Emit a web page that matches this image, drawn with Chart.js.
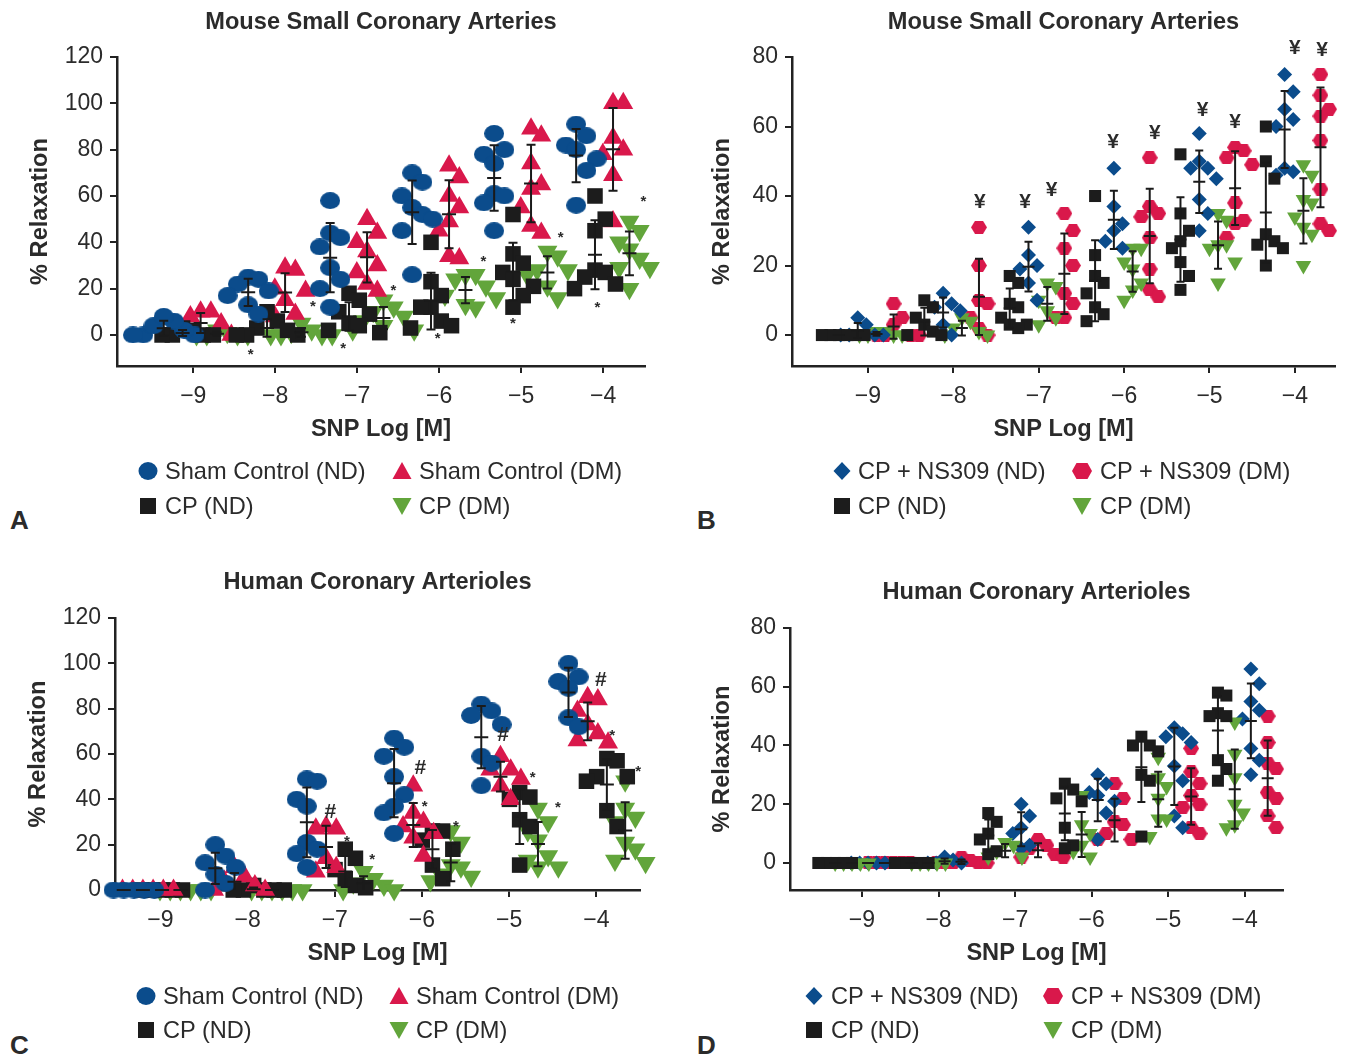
<!DOCTYPE html>
<html>
<head>
<meta charset="utf-8">
<script src="https://cdn.jsdelivr.net/npm/chart.js@4.4.1/dist/chart.umd.min.js"></script>
<style>
  body { margin: 0; background: #fff; width: 1350px; height: 1057px; position: relative; overflow: hidden;
         font-family: "Liberation Sans", Arial, sans-serif; color: #2b2b2b; }
  canvas { position: absolute; }
  .leg { position: absolute; font-size: 23.6px; line-height: 26px; height: 26px; white-space: nowrap; }
  .mk { position: absolute; }
  .letter { position: absolute; font-weight: bold; font-size: 26px; line-height: 30px; }
</style>
</head>
<body>
<div class="letter" style="left:10px;top:505px">A</div>
<div class="letter" style="left:697px;top:505px">B</div>
<div class="letter" style="left:10px;top:1030px">C</div>
<div class="letter" style="left:697px;top:1030px">D</div>

<script>
// ---- data ----
const xTicks = [-9, -8, -7, -6, -5, -4];
const yTicks120 = [0, 20, 40, 60, 80, 100, 120];
const yTicks80 = [0, 20, 40, 60, 80];

// A: mouse small coronary arteries
const A_doses = [-9.03, -8, -7, -6, -5, -4];
const A_shamND = [[0,0,0,2,4,6,8],[25,24,22,19,17,13,9],[58,44,42,38,29,24,20,12],[70,66,60,55,52,50,45,26],[87,80,78,74,61,60,57,45],[91,86,82,80,76,71,56]];
const A_shamDM = [[0,0,3,5,8,10,10],[28,29,20,19,15,9,8],[50,44,40,36,30,27,22,19],[73,68,60,55,49,45,34,33],[89,86,74,65,63,55,47,44],[100,100,85,80,78,69,49]];
const A_cpND = [[0,0,0,0,2,3],[10,6,3,0,0,0,2],[18,15,10,9,5,4,2,1],[40,23,17,12,12,6,4,3],[52,35,31,27,24,21,17,12],[60,50,45,28,27,25,22,20]];
const A_cpDM = [[0,0,0,0,1,2],[0,0,0,0,2,5,1],[15,12,10,8,6,4,2,2],[26,26,24,21,17,16,13,12],[36,34,28,28,26,21,16],[49,45,40,37,33,29,29,20]];
const A_stars = [[-8.3,-8.6],[-7.54,12],[-7.17,-6],[-6.56,19],[-6.02,-1.7],[-5.46,31.5],[-5.1,5],[-4.52,42],[-4.07,11.6],[-3.51,57.4]];

// B: mouse small coronary arteries, NS309
const B_doses = [-9, -8, -7, -6, -5, -4];
const B_nsND = [[0,0,0,0,3,5],[12,9,8,7,3,0],[31,23,20,19,15,10],[48,37,32,30,27,25],[58,50,48,48,45,39,35,30],[75,70,65,62,60,48,47,46]];
const B_nsDM = [[9,5,3,0,0,0,0],[31,20,10,9,5,2,0],[35,30,25,20,12,9,5,5],[51,37,35,34,28,19,13,11],[54,53,51,49,38,33,32,28],[75,69,65,63,56,42,32,30]];
const B_cpND = [[0,0,0,0,0,0],[10,8,5,3,1,0,0],[17,15,9,8,5,3,3,2],[40,23,17,15,12,8,6,4],[52,35,30,27,25,21,17,13],[60,50,45,29,27,26,25,20]];
const B_cpDM = [[0,0,0,0,1,1],[5,4,2,1,0,0],[15,14,10,7,5,3],[25,25,21,19,15,13,10],[35,33,26,26,25,21,15],[49,46,39,38,34,31,29,20]];
const B_yen = [[-7.69,38.3],[-7.16,38.3],[-6.85,41.7],[-6.13,55.5],[-5.64,58],[-5.08,64.7],[-4.7,61.3],[-4.0,82.6],[-3.68,82]];

// C: human coronary arterioles
const C_doses = [-9.1, -8.05, -7, -6, -5, -4];
const C_shamND = [[0,0,0,0,0,0],[20,15,12,10,7,3,0],[49,48,40,37,21,18,16,10],[67,63,59,50,42,37,34,25],[82,79,77,73,59,56,46],[100,94,92,89,76,72]];
const C_shamDM = [[0,0,0,0,0,0],[10,6,4,2,0,0],[28,27,27,14,10,8],[46,34,30,28,25,23,15],[59,53,53,49,46,40],[85,84,79,73,69,66,65]];
const C_cpND = [[0,0,0,0,0],[2,0,0,0,0,0],[18,14,9,5,2,1],[26,26,22,18,11,5],[43,41,40,31,28,11],[58,57,50,50,48,35,28]];
const C_cpDM = [[0,0,0,0,0,0],[0,0,0,0,0,0],[8,5,3,2,0,0],[26,21,11,10,7,6,4],[36,30,26,22,15,13,10,10],[48,36,32,30,21,18,13,12]];
const C_hash = [[-7.05,34.4],[-6.02,53.8],[-5.07,68.4],[-3.95,92.6]];
const C_stars = [[-6.86,21.2],[-6.57,13.2],[-5.97,36.6],[-5.61,27.8],[-4.73,49.4],[-4.44,36.2],[-3.82,67.9],[-3.52,52]];

// D: human coronary arterioles, NS309
const D_doses = [-9, -8, -7, -6, -5, -4];
const D_nsND = [[0,0,0,0,0],[0,0,0,1,2],[20,16,12,10,6,5],[30,27,24,23,21,17,8],[46,44,43,41,33,28,16,12],[66,61,55,52,49,39,35,30]];
const D_nsDM = [[0,0,0,0,0,0],[0,0,0,0,0,1,2],[8,6,5,3,2,2],[27,22,14,13,10,8,8],[39,31,27,23,20,19,12,10],[50,41,34,32,24,22,16,12]];
const D_cpND = [[0,0,0,0,0],[0,0,0,0,0],[17,14,10,8,4,3],[27,25,22,21,12,6,5],[43,40,40,38,30,28,9],[58,57,51,50,50,35,32,28]];
const D_cpDM = [[0,0,0,0,0],[0,0,0,0,0],[7,6,4,2,2],[23,13,10,6,4,2],[36,29,26,22,15,15,9],[48,37,29,20,17,13,12]];

// ---- styles ----
const BLUE = '#0b4c8c', RED = '#d9184b', BLACK = '#1c1c1c', GREEN = '#62a53b';
const FONT = '"Liberation Sans", Arial, sans-serif';
const FS = 23.6;
Chart.defaults.font.family = FONT;
Chart.defaults.color = '#2b2b2b';

function polyImg(w, h, color, pts) {
  const c = document.createElement('canvas');
  c.width = w; c.height = h;
  const g = c.getContext('2d');
  g.fillStyle = color;
  g.beginPath();
  pts.forEach((p, i) => i ? g.lineTo(p[0] * w, p[1] * h) : g.moveTo(p[0] * w, p[1] * h));
  g.closePath();
  g.fill();
  return c;
}
function ellipseImg(w, h, color) {
  const c = document.createElement('canvas');
  c.width = w; c.height = h;
  const g = c.getContext('2d');
  g.fillStyle = color;
  g.beginPath();
  g.ellipse(w / 2, h / 2, w / 2, h / 2, 0, 0, Math.PI * 2);
  g.fill();
  return c;
}
const HEX = [[0,0.5],[0.25,0],[0.75,0],[1,0.5],[0.75,1],[0.25,1]];

function marker(kind, color, big) {
  switch (kind) {
    case 'circle': return { pointStyle: ellipseImg(big ? 20 : 14, big ? 17 : 12, color), pointRadius: 9, pointRotation: 0 };
    case 'hex': return { pointStyle: polyImg(16, 13, color, HEX), pointRadius: 8, pointRotation: 0 };
    case 'rect': return { pointStyle: 'rect', pointRadius: big ? 11 : 8.5, pointRotation: 0 };
    case 'diamond': return { pointStyle: 'rectRot', pointRadius: big ? 9 : 7.5, pointRotation: 0 };
    case 'tri': return { pointStyle: 'triangle', pointRadius: big ? 11.5 : 9, pointRotation: 0 };
    case 'down': return { pointStyle: 'triangle', pointRadius: big ? 11.5 : 9, pointRotation: 180 };
  }
}

function svgShape(k, c) {
  let body = '';
  if (k === 'circle') body = `<ellipse cx="11" cy="11" rx="9.5" ry="9" fill="${c}"/>`;
  if (k === 'tri') body = `<polygon points="11,2 20.5,19 1.5,19" fill="${c}"/>`;
  if (k === 'down') body = `<polygon points="1.5,3 20.5,3 11,20" fill="${c}"/>`;
  if (k === 'rect') body = `<rect x="3" y="3" width="16" height="16" fill="${c}"/>`;
  if (k === 'diamond') body = `<polygon points="11,2 19.5,11 11,20 2.5,11" fill="${c}"/>`;
  if (k === 'hex') body = `<polygon points="1,11 5.5,3 16.5,3 21,11 16.5,19 5.5,19" fill="${c}"/>`;
  return `<svg width="22" height="22" viewBox="0 0 22 22">${body}</svg>`;
}

// ---- helpers ----
function stats(vals) {
  const n = vals.length;
  const m = vals.reduce((a, b) => a + b, 0) / n;
  const sd = n > 1 ? Math.sqrt(vals.reduce((a, b) => a + (b - m) * (b - m), 0) / (n - 1)) : 0;
  return { mean: m, sd: sd };
}
// spread points of similar height sideways, like a column scatter
function swarm(vals, step, tol) {
  const order = vals.map((v, i) => i).sort((a, b) => vals[b] - vals[a]);
  const placed = [];
  const off = new Array(vals.length).fill(0);
  const cands = [0];
  for (let k = 1; k <= 10; k++) cands.push(k, -k);
  order.forEach(i => {
    let pick = cands[cands.length - 1];
    for (const k of cands) {
      const dx = k * step / 2;
      if (!placed.some(p => Math.abs(p.y - vals[i]) < tol && Math.abs(p.dx - dx) < step)) { pick = k; break; }
    }
    off[i] = pick * step / 2;
    placed.push({ y: vals[i], dx: off[i] });
  });
  return off;
}

const errorBars = {
  id: 'errorBars',
  afterDatasetsDraw(chart, args, opts) {
    const { ctx, scales: { x, y } } = chart;
    ctx.save();
    ctx.strokeStyle = '#1a1a1a';
    ctx.lineWidth = 2;
    chart.data.datasets.forEach(ds => {
      (ds.stats || []).forEach(s => {
        const px = x.getPixelForValue(s.x);
        const hi = s.mean + s.sd, lo = s.mean - s.sd;
        const pTop = y.getPixelForValue(hi);
        const pBot = y.getPixelForValue(Math.max(lo, y.min));
        const pMean = y.getPixelForValue(s.mean);
        ctx.beginPath();
        ctx.moveTo(px, pTop); ctx.lineTo(px, pBot);
        ctx.moveTo(px - opts.cap, pTop); ctx.lineTo(px + opts.cap, pTop);
        if (lo >= y.min) { ctx.moveTo(px - opts.cap, pBot); ctx.lineTo(px + opts.cap, pBot); }
        ctx.moveTo(px - opts.meanW, pMean); ctx.lineTo(px + opts.meanW, pMean);
        ctx.stroke();
      });
    });
    ctx.fillStyle = '#2b2b2b';
    ctx.textAlign = 'center';
    ctx.textBaseline = 'middle';
    (opts.marks || []).forEach(m => {
      ctx.font = m.font;
      m.pts.forEach(p => ctx.fillText(m.text, x.getPixelForValue(p[0]), y.getPixelForValue(p[1])));
    });
    ctx.restore();
  }
};

const minus = v => (v < 0 ? '\u2212' + Math.abs(v) : String(v));

function makePanel(p) {
  const [bl, bt, bw, bh] = p.box;
  const [L, T, R, B] = p.area;
  const half = FS * 1.2 / 2;
  const xH = 100;
  const cv = document.createElement('canvas');
  cv.width = bw; cv.height = bh;
  cv.style.left = bl + 'px'; cv.style.top = bt + 'px';
  document.body.appendChild(cv);

  const datasets = p.series.map(s => {
    const data = [], st = [];
    p.doses.forEach((d, gi) => {
      const vals = s.values[gi];
      const offs = swarm(vals, p.step, p.tol);
      vals.forEach((v, i) => data.push({ x: d + s.off + offs[i], y: v }));
      const r = stats(vals);
      st.push({ x: d + s.off, mean: r.mean, sd: r.sd });
    });
    return Object.assign({
      label: s.label, data: data, stats: st,
      backgroundColor: s.color, borderColor: s.color, pointBorderWidth: 0,
      showLine: false, clip: false
    }, marker(s.kind, s.color, p.big));
  });

  new Chart(cv, {
    type: 'scatter',
    data: { datasets: datasets },
    plugins: [errorBars],
    options: {
      responsive: false, animation: false, devicePixelRatio: 1, events: [],
      layout: { padding: { left: 0, top: 0, right: bl + bw - R, bottom: bt + bh - B - xH } },
      plugins: {
        legend: { display: false }, tooltip: { enabled: false },
        title: { display: true, text: p.title, fullSize: false, color: '#2b2b2b',
                 font: { size: FS, weight: 'bold' },
                 padding: { top: p.titleY - bt - half, bottom: T - p.titleY - half } },
        errorBars: { cap: p.big ? 4.5 : 4, meanW: p.big ? 7 : 6, marks: p.marks }
      },
      scales: {
        x: {
          type: 'linear', min: p.xr[0], max: p.xr[1],
          afterBuildTicks: s => { s.ticks = xTicks.map(v => ({ value: v })); },
          afterFit: s => { s.height = xH; },
          ticks: { callback: minus, font: { size: 23 }, color: '#2b2b2b', padding: 10, maxRotation: 0 },
          grid: { drawOnChartArea: false, drawTicks: true, tickLength: 7, color: '#222', lineWidth: 2 },
          border: { display: true, color: '#222', width: 2.5 },
          title: { display: true, text: 'SNP Log [M]', color: '#2b2b2b', font: { size: FS, weight: 'bold' },
                   padding: { top: 0, bottom: B + xH - p.xTitleY - half } }
        },
        y: {
          type: 'linear', min: p.yr[0], max: p.yr[1],
          afterBuildTicks: s => { s.ticks = p.yTicks.map(v => ({ value: v })); },
          afterFit: s => { s.width = L - bl; },
          ticks: { font: { size: 23 }, color: '#2b2b2b', padding: 7 },
          grid: { drawOnChartArea: false, drawTicks: true, tickLength: 7, color: '#222', lineWidth: 2 },
          border: { display: true, color: '#222', width: 2.5 },
          title: { display: true, text: '% Relaxation', color: '#2b2b2b', font: { size: FS, weight: 'bold' },
                   padding: { top: p.yTitleX - bl - half, bottom: 0 } }
        }
      }
    }
  });

  p.legend.forEach(it => {
    const mk = document.createElement('div');
    mk.className = 'mk';
    mk.style.left = (it.x - 11) + 'px'; mk.style.top = (it.y - 11) + 'px';
    mk.innerHTML = svgShape(it.k, it.c);
    document.body.appendChild(mk);
    const tx = document.createElement('div');
    tx.className = 'leg';
    tx.style.left = it.tx + 'px'; tx.style.top = (it.y - 13) + 'px';
    tx.textContent = it.t;
    document.body.appendChild(tx);
  });
}

const starFont = 'bold 15px ' + FONT;
const symFont = 'bold 21px ' + FONT;

makePanel({
  box: [0, 0, 680, 540], area: [117, 57, 645, 366], xr: [-9.93, -3.49], yr: [-13.4, 120], yTicks: yTicks120,
  title: 'Mouse Small Coronary Arteries', titleY: 22, xTitleY: 429, yTitleX: 40, big: true, step: 0.125, tol: 11,
  doses: A_doses,
  series: [
    { label: 'Sham Control (ND)', values: A_shamND, off: -0.33, kind: 'circle', color: BLUE },
    { label: 'CP (ND)', values: A_cpND, off: -0.1, kind: 'rect', color: BLACK },
    { label: 'Sham Control (DM)', values: A_shamDM, off: 0.12, kind: 'tri', color: RED },
    { label: 'CP (DM)', values: A_cpDM, off: 0.32, kind: 'down', color: GREEN }
  ],
  marks: [{ text: '*', font: starFont, pts: A_stars }],
  legend: [
    { k: 'circle', c: BLUE, t: 'Sham Control (ND)', x: 148, y: 471, tx: 165 },
    { k: 'tri', c: RED, t: 'Sham Control (DM)', x: 402, y: 471, tx: 419 },
    { k: 'rect', c: BLACK, t: 'CP (ND)', x: 148, y: 506, tx: 165 },
    { k: 'down', c: GREEN, t: 'CP (DM)', x: 402, y: 506, tx: 419 }
  ]
});

makePanel({
  box: [680, 0, 670, 540], area: [792, 57, 1335, 366], xr: [-9.89, -3.53], yr: [-8.9, 80], yTicks: yTicks80,
  title: 'Mouse Small Coronary Arteries', titleY: 22, xTitleY: 429, yTitleX: 722, big: false, step: 0.1, tol: 6,
  doses: B_doses,
  series: [
    { label: 'CP (ND)', values: B_cpND, off: -0.34, kind: 'rect', color: BLACK },
    { label: 'CP + NS309 (ND)', values: B_nsND, off: -0.12, kind: 'diamond', color: BLUE },
    { label: 'CP (DM)', values: B_cpDM, off: 0.1, kind: 'down', color: GREEN },
    { label: 'CP + NS309 (DM)', values: B_nsDM, off: 0.3, kind: 'hex', color: RED }
  ],
  marks: [{ text: '\u00a5', font: symFont, pts: B_yen }],
  legend: [
    { k: 'diamond', c: BLUE, t: 'CP + NS309 (ND)', x: 842, y: 471, tx: 858 },
    { k: 'hex', c: RED, t: 'CP + NS309 (DM)', x: 1082, y: 471, tx: 1100 },
    { k: 'rect', c: BLACK, t: 'CP (ND)', x: 842, y: 506, tx: 858 },
    { k: 'down', c: GREEN, t: 'CP (DM)', x: 1082, y: 506, tx: 1100 }
  ]
});

makePanel({
  box: [0, 540, 680, 517], area: [115, 618, 640, 890], xr: [-9.52, -3.5], yr: [0, 120], yTicks: yTicks120,
  title: 'Human Coronary Arterioles', titleY: 582, xTitleY: 953, yTitleX: 38, big: true, step: 0.117, tol: 11,
  doses: C_doses,
  series: [
    { label: 'Sham Control (ND)', values: C_shamND, off: -0.32, kind: 'circle', color: BLUE },
    { label: 'Sham Control (DM)', values: C_shamDM, off: -0.1, kind: 'tri', color: RED },
    { label: 'CP (ND)', values: C_cpND, off: 0.12, kind: 'rect', color: BLACK },
    { label: 'CP (DM)', values: C_cpDM, off: 0.33, kind: 'down', color: GREEN }
  ],
  marks: [{ text: '#', font: symFont, pts: C_hash }, { text: '*', font: starFont, pts: C_stars }],
  legend: [
    { k: 'circle', c: BLUE, t: 'Sham Control (ND)', x: 146, y: 996, tx: 163 },
    { k: 'tri', c: RED, t: 'Sham Control (DM)', x: 399, y: 996, tx: 416 },
    { k: 'rect', c: BLACK, t: 'CP (ND)', x: 146, y: 1030, tx: 163 },
    { k: 'down', c: GREEN, t: 'CP (DM)', x: 399, y: 1030, tx: 416 }
  ]
});

makePanel({
  box: [680, 540, 670, 517], area: [790, 628, 1283, 890], xr: [-9.94, -3.5], yr: [-9.2, 80], yTicks: yTicks80,
  title: 'Human Coronary Arterioles', titleY: 592, xTitleY: 953, yTitleX: 722, big: false, step: 0.11, tol: 7,
  doses: D_doses,
  series: [
    { label: 'CP (ND)', values: D_cpND, off: -0.35, kind: 'rect', color: BLACK },
    { label: 'CP (DM)', values: D_cpDM, off: -0.13, kind: 'down', color: GREEN },
    { label: 'CP + NS309 (ND)', values: D_nsND, off: 0.08, kind: 'diamond', color: BLUE },
    { label: 'CP + NS309 (DM)', values: D_nsDM, off: 0.3, kind: 'hex', color: RED }
  ],
  marks: [],
  legend: [
    { k: 'diamond', c: BLUE, t: 'CP + NS309 (ND)', x: 814, y: 996, tx: 831 },
    { k: 'hex', c: RED, t: 'CP + NS309 (DM)', x: 1053, y: 996, tx: 1071 },
    { k: 'rect', c: BLACK, t: 'CP (ND)', x: 814, y: 1030, tx: 831 },
    { k: 'down', c: GREEN, t: 'CP (DM)', x: 1053, y: 1030, tx: 1071 }
  ]
});
</script>
</body>
</html>
